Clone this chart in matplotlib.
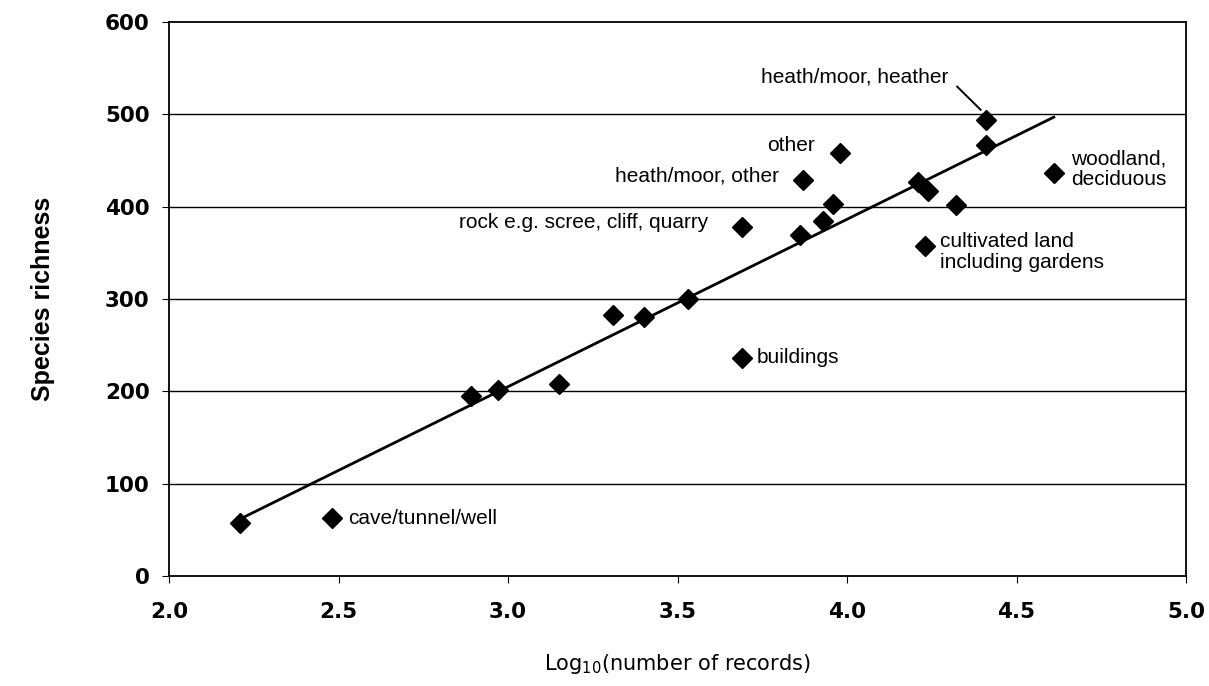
import matplotlib
matplotlib.use("Agg")
import matplotlib.pyplot as plt

# Points
log_records = [2.21, 2.48, 2.89, 2.97, 3.15, 3.31, 3.40, 3.53, 3.69, 3.69, 3.86,
               3.93, 3.96, 3.87, 3.98, 4.21, 4.24, 4.32, 4.23, 4.41, 4.41, 4.61]
richness = [57, 63, 195, 202, 208, 283, 281, 300, 236, 378, 369,
            385, 403, 429, 458, 427, 417, 402, 357, 494, 467, 437]

# fitted line end points as drawn
fit_x = [2.20, 4.61]
fit_y = [60, 497]

label_text = ["heath/moor, heather", "other", "heath/moor, other",
              "rock e.g. scree, cliff, quarry", "woodland,\ndeciduous",
              "cultivated land\nincluding gardens", "cave/tunnel/well", "buildings"]
label_x = [4.30, 3.905, 3.80, 3.59, 4.66, 4.275, 2.527, 3.734]
label_y = [540, 466, 433, 383, 441, 351, 62, 237]
label_ha = ["right", "right", "right", "right", "left", "left", "left", "left"]

leader_x = [4.325, 4.394]
leader_y = [530, 505]

x_ticks = [2.0, 2.5, 3.0, 3.5, 4.0, 4.5, 5.0]
y_ticks = [0, 100, 200, 300, 400, 500, 600]

fig = plt.figure(figsize=(12.09, 6.86), dpi=100)
ax = fig.add_axes([0.1398, 0.1603, 0.8412, 0.8076])

for yv in y_ticks[1:-1]:
    ax.axhline(yv, color="black", linewidth=1.0, zorder=1)

ax.plot(fit_x, fit_y, color="black", linewidth=2.0, zorder=2)
ax.plot(log_records, richness, linestyle="none", marker="D", markersize=10,
        color="black", zorder=3)
ax.plot(leader_x, leader_y, color="black", linewidth=1.4)

for txt, tx, ty, ha in zip(label_text, label_x, label_y, label_ha):
    ax.text(tx, ty, txt, ha=ha, va="center", fontsize=15,
            family="Liberation Sans", linespacing=1.1)

ax.set_xlim(2.0, 5.0)
ax.set_ylim(0, 600)
ax.set_xticks(x_ticks)
ax.set_xticklabels([f"{v:.1f}" for v in x_ticks])
ax.set_yticks(y_ticks)
ax.tick_params(axis="x", direction="out", length=5, pad=14, labelsize=15.5)
ax.tick_params(axis="y", direction="out", length=5, pad=9, labelsize=15.5)
for lab in ax.get_xticklabels() + ax.get_yticklabels():
    lab.set_fontweight("bold")
    lab.set_family("DejaVu Sans")

for sp in ax.spines.values():
    sp.set_linewidth(1.3)

ax.set_ylabel("Species richness", fontsize=18, fontweight="bold",
              family="Liberation Sans")
ax.yaxis.set_label_coords(-0.112, 0.5)
ax.set_xlabel(r"Log$_{10}$(number of records)", fontsize=15,
              family="DejaVu Sans")
ax.xaxis.set_label_coords(0.5, -0.138)

fig.savefig("out.png", dpi=100)
